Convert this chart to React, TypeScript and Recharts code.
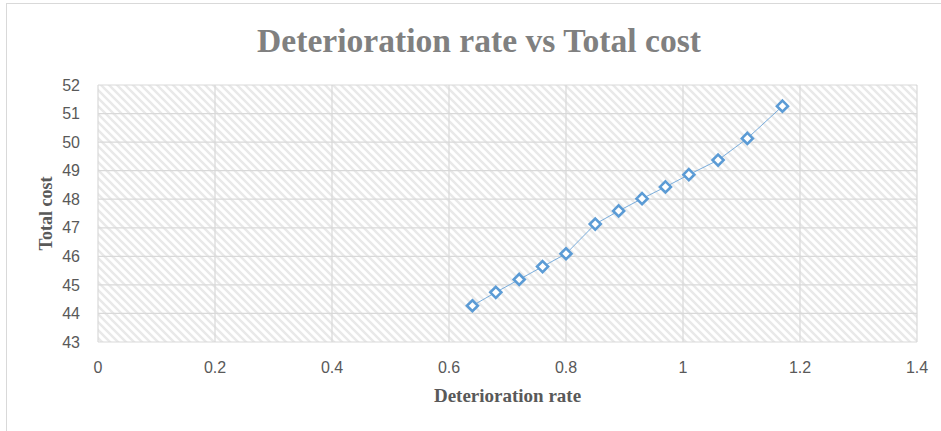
import React from 'react';
import { ScatterChart, Scatter, XAxis, YAxis, CartesianGrid } from 'recharts';

const deteriorationRate = [0.64, 0.68, 0.72, 0.76, 0.8, 0.85, 0.89, 0.93, 0.97, 1.01, 1.06, 1.11, 1.17];
const totalCost = [44.27, 44.74, 45.19, 45.64, 46.09, 47.13, 47.59, 48.02, 48.43, 48.86, 49.37, 50.13, 51.26];
const xTicks = [0, 0.2, 0.4, 0.6, 0.8, 1, 1.2, 1.4];
const yTicks = [43, 44, 45, 46, 47, 48, 49, 50, 51, 52];
const chartTitle = 'Deterioration rate vs Total cost';
const xTitle = 'Deterioration rate';
const yTitle = 'Total cost';

const data = deteriorationRate.map((x, i) => ({ x, y: totalCost[i] }));

const BLUE = '#5b9bd5';
const GRID = '#d9d9d9';
const TICK = '#595959';

const Diamond = (props: any) => {
  const { cx, cy } = props;
  if (cx == null || cy == null) return null;
  const r = 5.5;
  return (
    <path
      d={`M${cx},${cy - r} L${cx + r},${cy} L${cx},${cy + r} L${cx - r},${cy} Z`}
      fill="#fff"
      stroke={BLUE}
      strokeWidth={2.6}
    />
  );
};

const YLabel = (props: any) => {
  const vb = props.viewBox || { x: 38, y: 85, width: 60, height: 257 };
  const x = vb.x + 14;
  const y = vb.y + vb.height / 2;
  return (
    <text
      x={x}
      y={y}
      transform={`rotate(-90 ${x} ${y})`}
      textAnchor="middle"
      fontFamily="'Liberation Serif', 'Times New Roman', serif"
      fontWeight="bold"
      fontSize={18}
      fill={TICK}
    >
      {yTitle}
    </text>
  );
};

const XLabel = (props: any) => {
  const vb = props.viewBox || { x: 98, y: 342, width: 819, height: 30 };
  const x = vb.x + vb.width / 2;
  const y = vb.y + 60;
  return (
    <text
      x={x}
      y={y}
      textAnchor="middle"
      fontFamily="'Liberation Serif', 'Times New Roman', serif"
      fontWeight="bold"
      fontSize={19}
      fill={TICK}
    >
      {xTitle}
    </text>
  );
};

const tickStyle = { fontFamily: "'Liberation Sans', Arial, sans-serif", fontSize: 16, fill: TICK };

export default function App() {
  return (
    <div
      style={{
        position: 'fixed',
        left: 0,
        top: 0,
        width: 941,
        height: 431,
        background: '#fff',
        overflow: 'hidden',
      }}
    >
      <div
        style={{
          position: 'absolute',
          left: 6,
          top: 3,
          width: 1000,
          height: 1000,
          borderLeft: `1px solid ${GRID}`,
          borderTop: `1px solid ${GRID}`,
          boxSizing: 'border-box',
        }}
      />
      <div style={{ position: 'absolute', left: 0, top: 0 }}>
        <ScatterChart
          width={941}
          height={431}
          margin={{ top: 85, right: 24, bottom: 59, left: 38 }}
        >
          <defs>
            <pattern id="hatch" patternUnits="userSpaceOnUse" width="8" height="8">
              <rect width="8" height="8" fill="#fff" />
              <path
                d="M-2,-2 L10,10 M-2,6 L2,10 M6,-2 L10,2"
                stroke="#e9e9e9"
                strokeWidth={2.4}
              />
            </pattern>
          </defs>
          <CartesianGrid stroke={GRID} strokeWidth={1.2} fill="url(#hatch)" fillOpacity={1} />
          <XAxis
            type="number"
            dataKey="x"
            domain={[0, 1.4]}
            ticks={xTicks}
            interval={0}
            axisLine={false}
            tickLine={false}
            tickSize={0}
            tickMargin={20}
            height={30}
            tick={tickStyle}
            label={<XLabel />}
          />
          <YAxis
            type="number"
            dataKey="y"
            domain={[43, 52]}
            ticks={yTicks}
            interval={0}
            axisLine={false}
            tickLine={false}
            tickSize={0}
            tickMargin={18}
            width={60}
            tick={tickStyle}
            label={<YLabel />}
          />
          <Scatter
            data={data}
            shape={<Diamond />}
            line={{ stroke: BLUE, strokeWidth: 0.8 }}
            isAnimationActive={false}
          />
        </ScatterChart>
      </div>
      <svg
        width={941}
        height={431}
        style={{ position: 'absolute', left: 0, top: 0, pointerEvents: 'none' }}
      >
        <text
          x={479}
          y={52}
          textAnchor="middle"
          fontFamily="'Liberation Serif', 'Times New Roman', serif"
          fontWeight="bold"
          fontSize={33.6}
          fill="#808080"
        >
          {chartTitle}
        </text>
      </svg>
    </div>
  );
}
